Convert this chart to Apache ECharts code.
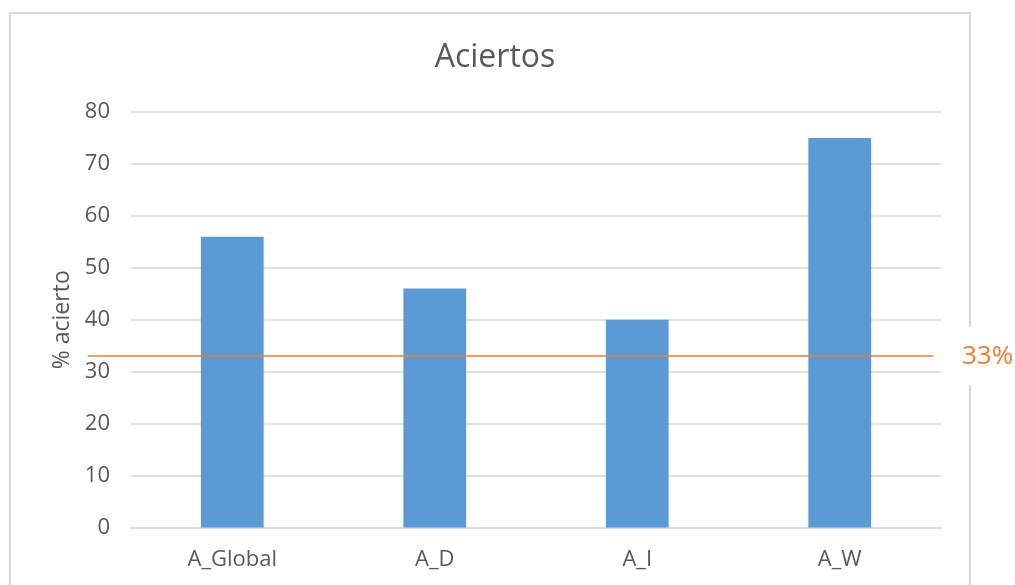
<!DOCTYPE html>
<html>
<head>
<meta charset="utf-8">
<script src="https://cdn.jsdelivr.net/npm/echarts@6/dist/echarts.min.js"></script>
<style>
  html, body { margin: 0; padding: 0; background: #fff; }
  #chart { width: 1015px; height: 585px; }
</style>
</head>
<body>
<div id="chart"></div>
<script>
// Chart data
const categories = ['A_Global', 'A_D', 'A_I', 'A_W'];
const aciertos = [56, 46, 40, 75];
const referencia = 33;           // chance-level reference, in %
const yTicks = [0, 80, 10];      // min, max, interval

const textColor = '#595959';
const gridColor = '#d9d9d9';
const fontFamily = '"Open Sans", "Noto Sans", sans-serif';

const chart = echarts.init(document.getElementById('chart'), null, { renderer: 'canvas' });

chart.setOption({
  animation: false,
  backgroundColor: '#fff',
  textStyle: { fontFamily: fontFamily },
  title: {
    text: 'Aciertos',
    left: 490,
    textAlign: 'center',
    top: 37,
    textStyle: { fontFamily: fontFamily, fontSize: 32, fontWeight: 'normal', color: textColor }
  },
  graphic: [{
    type: 'rect',
    z: 0,
    shape: { x: 10, y: 13, width: 960, height: 590 },
    style: { fill: 'none', stroke: gridColor, lineWidth: 2 }
  }],
  grid: [
    { left: 131, right: 74, top: 112, bottom: 57.5 },
    { left: 88, right: 82, top: 112, bottom: 57.5 }
  ],
  xAxis: [{
    type: 'category',
    gridIndex: 0,
    data: categories,
    axisLine: { show: true, lineStyle: { color: gridColor, width: 1.5 } },
    axisTick: { show: false },
    axisLabel: { color: textColor, fontSize: 22, margin: 21, fontFamily: fontFamily }
  }, {
    type: 'value',
    gridIndex: 1,
    min: 0,
    max: 1,
    show: false
  }],
  yAxis: [{
    type: 'value',
    gridIndex: 0,
    min: yTicks[0],
    max: yTicks[1],
    interval: yTicks[2],
    name: '% acierto',
    nameLocation: 'middle',
    nameGap: 56,
    nameRotate: 90,
    nameTextStyle: { color: textColor, fontSize: 23, fontFamily: fontFamily },
    axisLine: { show: false },
    axisTick: { show: false },
    axisLabel: { color: textColor, fontSize: 22, margin: 21, fontFamily: fontFamily },
    splitLine: { lineStyle: { color: gridColor, width: 1.5 } }
  }, {
    type: 'value',
    gridIndex: 1,
    min: yTicks[0],
    max: yTicks[1],
    show: false
  }],
  series: [{
    type: 'bar',
    xAxisIndex: 0,
    yAxisIndex: 0,
    data: aciertos,
    barWidth: '31%',
    itemStyle: { color: '#5B9BD5' },
    z: 2
  }, {
    type: 'line',
    xAxisIndex: 1,
    yAxisIndex: 1,
    symbol: 'none',
    lineStyle: { color: '#ED7D31', width: 1.5 },
    z: 3,
    data: [[0, referencia], [1, referencia]],
    endLabel: {
      show: true,
      distance: 23,
      formatter: function (p) { return p.value[1] + '%'; },
      color: '#ED7D31',
      fontSize: 26,
      fontFamily: fontFamily,
      backgroundColor: '#fff',
      padding: [16, 2, 16, 6]
    }
  }]
});
</script>
</body>
</html>
